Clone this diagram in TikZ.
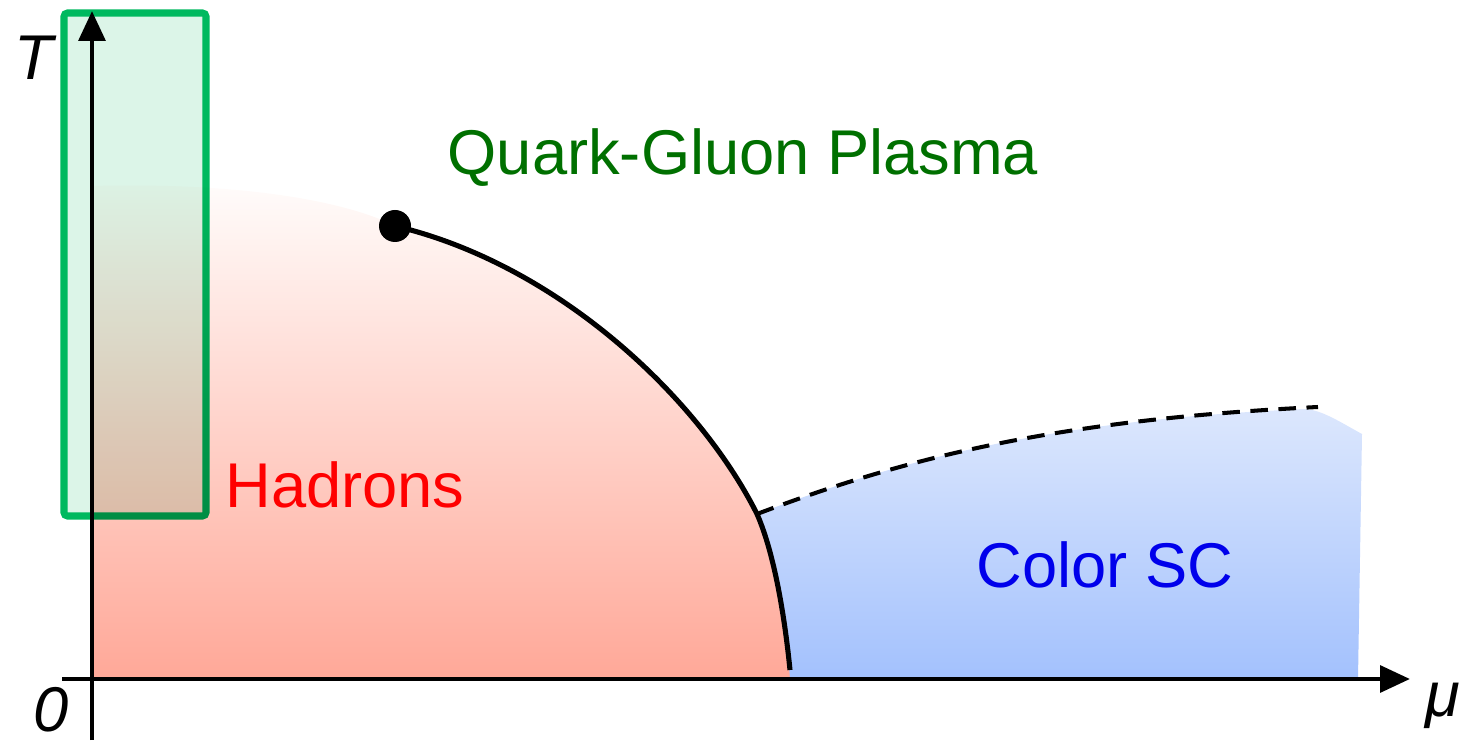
\documentclass[tikz,border=0pt]{standalone}
\usepackage{fontspec}
\setmainfont{Liberation Sans}
\usetikzlibrary{arrows.meta}
\definecolor{qgp}{RGB}{0,112,0}
\definecolor{hadred}{RGB}{255,0,0}
\definecolor{csc}{RGB}{0,0,235}
\definecolor{boxgreen}{RGB}{0,185,95}
\definecolor{boxfill}{RGB}{220,245,232}
\definecolor{redtop}{RGB}{255,252,251}
\definecolor{redbot}{RGB}{255,168,152}
\definecolor{bluetop}{RGB}{220,231,253}
\definecolor{bluebot}{RGB}{163,193,253}
\tikzset{
  axis/.style={line width=2.8pt,-{Triangle[length=17pt,width=15pt]}},
  lab/.style={font=\fontsize{36}{43}\selectfont},
  ilab/.style={font=\fontsize{36}{43}\selectfont\itshape},
  trans/.style={line width=2.9pt},
  crossover/.style={line width=2.3pt,dash pattern=on 10pt off 6pt},
}
\begin{document}
\begin{tikzpicture}[x=0.02cm,y=-0.02cm]
\useasboundingbox (0,0) rectangle (1464,746);
% green box
\draw[boxgreen,fill=boxfill,line width=4pt,rounded corners=2pt] (64,13) rectangle (206,516);
% hadron region
\begin{scope}[blend mode=multiply]
\shade[top color=redtop,bottom color=redbot]
  (92,679) -- (92,186) .. controls (250,182) and (350,203) .. (395,226)
  .. controls (560,265) and (700,400) .. (757,514)
  .. controls (775,555) and (785,620) .. (792,679) -- cycle;
\end{scope}
% colour superconductor region
\shade[top color=bluetop,bottom color=bluebot]
  (757,514) .. controls (775,555) and (785,620) .. (790,679)
  -- (1358,679) -- (1362,434) .. controls (1340,422) and (1322,410) .. (1305,409)
  .. controls (1050,420) and (900,460) .. (757,514) -- cycle;
% transition lines
\coordinate (cep) at (395,226);
\coordinate (tri) at (757,514);
\coordinate (bot) at (790,670);
\coordinate (dend) at (1318,407);
\draw[trans] (cep) .. controls (560,265) and (700,400) .. (tri)
  .. controls (775,555) and (785,620) .. (bot);
\draw[crossover] (tri) .. controls (900,460) and (1050,420) .. (dend);
\fill (cep) circle (16);
% axes
\coordinate (yb) at (92,740);
\coordinate (yt) at (92,11);
\coordinate (xl) at (62,679);
\coordinate (xr) at (1410,679);
\draw[axis] (yb) -- (yt);
\draw[axis] (xl) -- (xr);
% labels
\node[ilab] (T) at (34,58) {T};
\node[ilab] (zero) at (51,710) {0};
\node[ilab] (mu) at (1443,706) {μ};
\node[lab,text=qgp] (qgpl) at (743,158) {Quark-Gluon Plasma};
\node[lab,text=hadred] (hadl) at (345,485) {Hadrons};
\node[lab,text=csc] (cscl) at (1105,565) {Color SC};
\end{tikzpicture}
\end{document}
